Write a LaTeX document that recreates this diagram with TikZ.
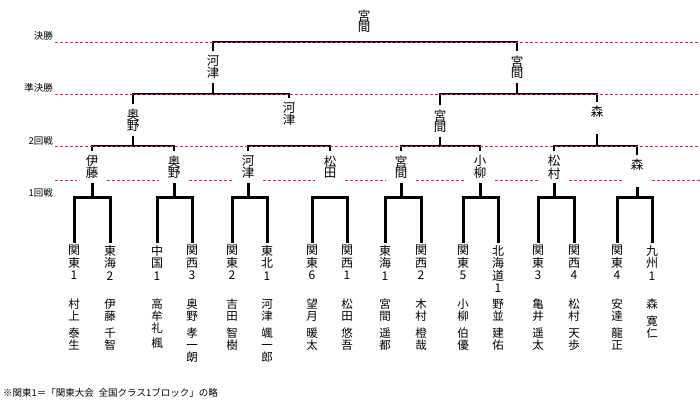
\documentclass[tikz,border=0pt]{standalone}
\usepackage{fontspec}
\setmainfont{Noto Sans CJK JP}
\usetikzlibrary{calc}
\definecolor{guidered}{RGB}{228,40,60}

\begin{document}
\begin{tikzpicture}[x=1pt,y=-1pt,
    bk/.style={line width=2.5pt,black},
    bkone/.style={line width=3pt,black},
    guide/.style={guidered,line width=.9pt,dash pattern=on 3pt off 2pt},
    rnd/.style={anchor=east,inner sep=0pt,font=\fontsize{9.5}{10}\selectfont},
    team/.style={anchor=north,align=center,inner sep=2pt,font=\fontsize{12}{12.5}\selectfont},
    player/.style={anchor=north,align=center,inner sep=0pt,font=\fontsize{11.5}{12}\selectfont},
    win/.style={align=center,inner sep=4pt,font=\fontsize{12.5}{11.5}\selectfont}]
  \useasboundingbox (0,0) rectangle (700,405);

  % round labels
  \node[rnd] (lfin) at (53,36) {決勝};
  \node[rnd] (lsemi) at (53,88) {準決勝};
  \node[rnd] (lsec) at (53,141) {2回戦};
  \node[rnd] (lfst) at (53,193) {1回戦};

  % teams and players
  \foreach \i/\xa/\ta/\pa/\xb/\tb/\pb in {
      1/74/{関\\東\\1}/{村\\上\\[5pt]泰\\生}/110/{東\\海\\2}/{伊\\藤\\[5pt]千\\智},
      2/157/{中\\国\\1}/{高\\牟\\礼\\[3pt]楓}/192/{関\\西\\3}/{奥\\野\\[5pt]孝\\一\\朗},
      3/232/{関\\東\\2}/{吉\\田\\[5pt]智\\樹}/267/{東\\北\\1}/{河\\津\\[5pt]颯\\一\\郎},
      4/312/{関\\東\\6}/{望\\月\\[5pt]暖\\太}/347/{関\\西\\1}/{松\\田\\[5pt]悠\\吾},
      5/385/{東\\海\\1}/{宮\\間\\[5pt]遥\\都}/421/{関\\西\\2}/{木\\村\\[5pt]橙\\哉},
      6/463/{関\\東\\5}/{小\\柳\\[5pt]伯\\優}/498/{北\\海\\道\\1}/{野\\並\\[5pt]建\\佑},
      7/538/{関\\東\\3}/{亀\\井\\[5pt]遥\\太}/574/{関\\西\\4}/{松\\村\\[5pt]天\\歩},
      8/617/{関\\東\\4}/{安\\達\\[5pt]龍\\正}/652/{九\\州\\1}/{森\\[5pt]寛\\仁}}{
    \node[team] (ta\i) at (\xa,243) {\ta};
    \node[team] (tb\i) at (\xb,243) {\tb};
    \node[player] (pa\i) at (\xa,299) {\pa};
    \node[player] (pb\i) at (\xb,299) {\pb};
  }

  % winners
  \node[win] (w1) at (92,167) {伊\\藤};
  \node[win] (w2) at (174,167) {奥\\野};
  \node[win] (w3) at (248,167) {河\\津};
  \node[win] (w4) at (330,167) {松\\田};
  \node[win] (w5) at (401,167) {宮\\間};
  \node[win] (w6) at (480,167) {小\\柳};
  \node[win] (w7) at (554,167) {松\\村};
  \node[win] (w8) at (637,171) {森\\\phantom{森}};
  \node[win] (q1) at (133,120) {奥\\野};
  \node[win] (q2) at (289,114) {河\\津};
  \node[win] (q3) at (440,121) {宮\\間};
  \node[win] (q4) at (597,118) {森\\\phantom{森}};
  \node[win] (s1) at (213,67) {河\\津};
  \node[win] (s2) at (517,67) {宮\\間};
  \node[win] (champ) at (364,21) {宮\\間};

  % first round
  \foreach \i in {1,...,8}
    \draw[bkone] (ta\i.north) |- (tb\i.north |- 0,197) -- (tb\i.north);
  \foreach \i in {1,2,3,5,6,7,8}
    \draw[bkone] (w\i.south) -- (w\i.south |- 0,197);

  % second round
  \foreach \a/\b in {1/2,3/4,5/6,7/8}
    \draw[bk] (w\a.north) |- (w\b.north |- 0,146) -- (w\b.north);
  \foreach \q in {1,3,4}
    \draw[bk] (q\q.south) -- (q\q.south |- 0,146);

  % semi final and final
  \draw[bk] (q1.north) |- (q2.north |- 0,94) -- (q2.north);
  \draw[bk] (q3.north) |- (q4.north |- 0,94) -- (q4.north);
  \draw[bk] (s1.south) -- (s1.south |- 0,94);
  \draw[bk] (s2.south) -- (s2.south |- 0,94);
  \draw[bk] (s1.north) |- (s2.north |- 0,42) -- (s2.north);

  % red guide lines
  \foreach \y in {42,94,146}
    \draw[guide] (55,\y) -- (700,\y);
  \draw[guide] (55,180) -- ($(w1.center |- 0,180)+(-15,0)$);
  \foreach \a/\b in {1/2,2/3,3/4,4/5,5/6,6/7,7/8}
    \draw[guide] ($(w\a.center |- 0,180)+(15,0)$) -- ($(w\b.center |- 0,180)+(-15,0)$);
  \draw[guide] ($(w8.center |- 0,180)+(15,0)$) -- (700,180);

  \node[anchor=west,inner sep=0pt,font=\fontsize{9.5}{10}\selectfont] (note) at (3,393)
    {※関東1＝「関東大会\enspace 全国クラス1ブロック」の略};
\end{tikzpicture}
\end{document}
